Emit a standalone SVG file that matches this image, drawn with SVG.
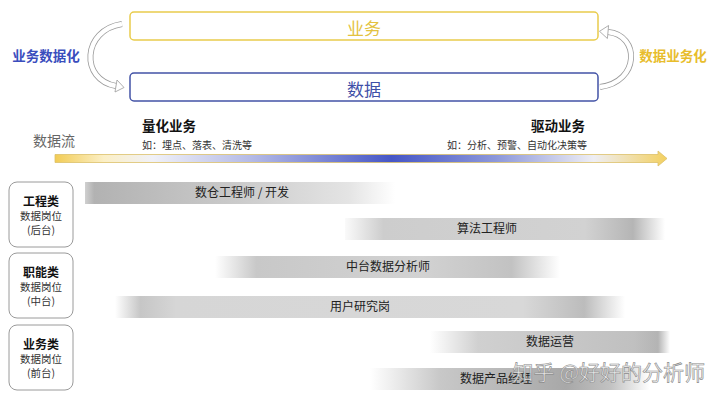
<svg xmlns="http://www.w3.org/2000/svg" width="720" height="401" viewBox="0 0 720 401">
<style>
text{font-family:"Noto Sans CJK SC","Liberation Sans",sans-serif;}
.lbl{font-size:12px;fill:#222;text-anchor:middle;}
.cat{fill:#fff;stroke:#9a9a9a;stroke-width:1;}
.catb{font-size:12px;font-weight:bold;fill:#111;text-anchor:middle;}
.cats{font-size:10.5px;fill:#333;text-anchor:middle;}
.arcO{fill:none;stroke:#9a9a9a;stroke-width:6;}
.arcI{fill:none;stroke:#fff;stroke-width:4.4;}
.head{fill:#fff;stroke:#9a9a9a;stroke-width:0.8;}
</style>
<defs>
<linearGradient id="flow" gradientUnits="userSpaceOnUse" x1="55" y1="0" x2="667" y2="0">
<stop offset="0" stop-color="#f2cc55"/>
<stop offset="0.08" stop-color="#fbefc6"/>
<stop offset="0.16" stop-color="#f0f1f8"/>
<stop offset="0.32" stop-color="#b4bae6"/>
<stop offset="0.55" stop-color="#4656c6"/>
<stop offset="0.72" stop-color="#8c97da"/>
<stop offset="0.88" stop-color="#eeeef4"/>
<stop offset="1" stop-color="#f3d060"/>
</linearGradient>
<linearGradient id="g1" x1="0" y1="0" x2="1" y2="0">
<stop offset="0" stop-color="#d0d0d0"/><stop offset="0.03" stop-color="#b2b2b2"/><stop offset="0.5" stop-color="#cbcbcb"/><stop offset="0.85" stop-color="#e4e4e4"/><stop offset="1" stop-color="#fff"/>
</linearGradient>
<linearGradient id="g2" x1="0" y1="0" x2="1" y2="0">
<stop offset="0" stop-color="#fafafa"/><stop offset="0.12" stop-color="#cdcdcd"/><stop offset="0.75" stop-color="#d2d2d2"/><stop offset="0.9" stop-color="#b5b5b5"/><stop offset="1" stop-color="#fff"/>
</linearGradient>
<linearGradient id="g3" x1="0" y1="0" x2="1" y2="0">
<stop offset="0" stop-color="#fff"/><stop offset="0.12" stop-color="#c8c8c8"/><stop offset="0.6" stop-color="#d2d2d2"/><stop offset="0.86" stop-color="#c2c2c2"/><stop offset="1" stop-color="#fff"/>
</linearGradient>
<linearGradient id="g4" x1="0" y1="0" x2="1" y2="0">
<stop offset="0" stop-color="#fff"/><stop offset="0.05" stop-color="#c6c6c6"/><stop offset="0.12" stop-color="#d6d6d6"/><stop offset="0.8" stop-color="#d8d8d8"/><stop offset="0.92" stop-color="#bcbcbc"/><stop offset="1" stop-color="#fff"/>
</linearGradient>
<linearGradient id="g5" x1="0" y1="0" x2="1" y2="0">
<stop offset="0" stop-color="#fff"/><stop offset="0.2" stop-color="#d0d0d0"/><stop offset="0.85" stop-color="#c0c0c0"/><stop offset="0.95" stop-color="#b4b4b4"/><stop offset="1" stop-color="#fff"/>
</linearGradient>
<linearGradient id="g6" x1="0" y1="0" x2="1" y2="0">
<stop offset="0" stop-color="#fff"/><stop offset="0.25" stop-color="#c8c8c8"/><stop offset="0.7" stop-color="#a8a8a8"/><stop offset="0.86" stop-color="#c2c2c2"/><stop offset="1" stop-color="#fff"/>
</linearGradient>
</defs>
<rect x="0" y="0" width="720" height="401" fill="#fff"/>

<g id="node-business">
<rect x="130" y="12" width="468" height="28" rx="4" fill="#fff" stroke="#e9cc4c" stroke-width="1.5"/>
<text x="364" y="35" font-size="17" fill="#e3c23f" text-anchor="middle">业务</text>
</g>
<g id="node-data">
<rect x="130" y="73" width="468" height="28" rx="4" fill="#fff" stroke="#4353a6" stroke-width="1.5"/>
<text x="364" y="96" font-size="17" fill="#3f50a8" text-anchor="middle">数据</text>
</g>

<g id="connectors">
<path class="arcO" d="M122,24 C82,30 80,80 116,86"/>
<path class="arcI" d="M122,24 C82,30 80,80 116,86"/>
<polygon class="head" points="124,87.5 115,92 117,80"/>
<path class="arcO" d="M600,87 C640,82 640,35 608,32"/>
<path class="arcI" d="M600,87 C640,82 640,35 608,32"/>
<polygon class="head" points="599.5,31.3 608.6,25.5 607.4,38.5"/>
</g>

<g id="label-left">
<text x="46" y="61" font-size="13.5" font-weight="bold" fill="#3a4dbd" text-anchor="middle">业务数据化</text>
</g>
<g id="label-right">
<text x="673" y="61" font-size="13.5" font-weight="bold" fill="#e8bd2c" text-anchor="middle">数据业务化</text>
</g>

<g id="flow">
<text x="54" y="146" font-size="14" fill="#666" text-anchor="middle">数据流</text>
<text x="142" y="131" font-size="13.5" font-weight="bold" fill="#111">量化业务</text>
<text x="142" y="149" font-size="10" fill="#333">如：埋点、落表、清洗等</text>
<text x="585" y="131" font-size="13.5" font-weight="bold" fill="#111" text-anchor="end">驱动业务</text>
<text x="587" y="149" font-size="10" fill="#333" text-anchor="end">如：分析、预警、自动化决策等</text>
<path d="M55,154.5 H658 V151 L667,158.5 L658,166 V162.5 H55 Z" fill="url(#flow)" stroke="#dcc06a" stroke-width="0.8"/>
</g>

<g id="cat-eng">
<rect class="cat" x="9" y="182" width="64" height="65" rx="8"/>
<text class="catb" x="41" y="206">工程类</text>
<text class="cats" x="41" y="220">数据岗位</text>
<text class="cats" x="41" y="234">(后台)</text>
</g>
<g id="cat-func">
<rect class="cat" x="9" y="253" width="64" height="65" rx="8"/>
<text class="catb" x="41" y="277">职能类</text>
<text class="cats" x="41" y="291">数据岗位</text>
<text class="cats" x="41" y="305">(中台)</text>
</g>
<g id="cat-biz">
<rect class="cat" x="9" y="325" width="64" height="65" rx="8"/>
<text class="catb" x="41" y="349">业务类</text>
<text class="cats" x="41" y="363">数据岗位</text>
<text class="cats" x="41" y="377">(前台)</text>
</g>

<g id="bar-dw">
<rect x="85" y="182" width="310" height="22" fill="url(#g1)"/>
<text class="lbl" x="242" y="197">数仓工程师 / 开发</text>
</g>
<g id="bar-algo">
<rect x="345" y="218" width="320" height="22" fill="url(#g2)"/>
<text class="lbl" x="487" y="233">算法工程师</text>
</g>
<g id="bar-analyst">
<rect x="215" y="256" width="345" height="22" fill="url(#g3)"/>
<text class="lbl" x="388" y="271">中台数据分析师</text>
</g>
<g id="bar-ux">
<rect x="115" y="296" width="510" height="22" fill="url(#g4)"/>
<text class="lbl" x="360" y="311">用户研究岗</text>
</g>
<g id="bar-ops">
<rect x="430" y="331" width="240" height="22" fill="url(#g5)"/>
<text class="lbl" x="550" y="346">数据运营</text>
</g>
<g id="bar-pm">
<rect x="370" y="368" width="280" height="22" fill="url(#g6)"/>
<text class="lbl" x="496" y="383">数据产品经理</text>
</g>

<g id="watermark">
<text x="705" y="380" font-size="21" fill="#f4f4f4" fill-opacity="0.85" stroke="#8a8a8a" stroke-width="0.6" text-anchor="end">知乎 @好好的分析师</text>
</g>
</svg>
